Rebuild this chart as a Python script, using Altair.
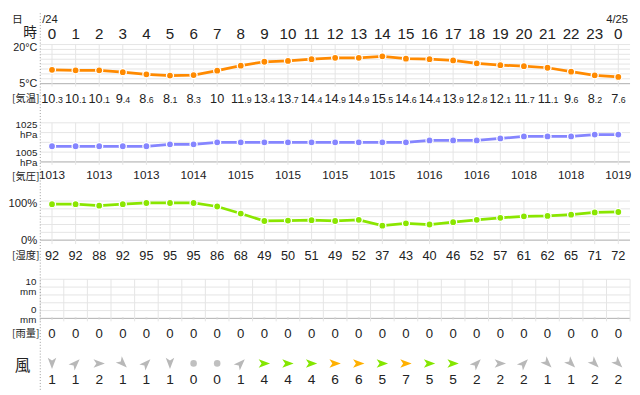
import altair as alt
import pandas as pd

# ---------------- data ----------------
hour_labels = ["0", "1", "2", "3", "4", "5", "6", "7", "8", "9", "10", "11", "12",
               "13", "14", "15", "16", "17", "18", "19", "20", "21", "22", "23", "0"]
temperature = [10.3, 10.1, 10.1, 9.4, 8.6, 8.1, 8.3, 10.0, 11.9, 13.4, 13.7, 14.4, 14.9,
               14.9, 15.5, 14.6, 14.4, 13.9, 12.8, 12.1, 11.7, 11.1, 9.6, 8.2, 7.6]
pressure = [1013, 1013, 1013, 1013, 1013, 1014, 1014, 1015, 1015, 1015, 1015, 1015, 1015,
            1015, 1015, 1015, 1016, 1016, 1016, 1017, 1018, 1018, 1018, 1019, 1019]
humidity = [92, 92, 88, 92, 95, 95, 95, 86, 68, 49, 50, 51, 49,
            52, 37, 43, 40, 46, 52, 57, 61, 62, 65, 71, 72]
rain = [0, 0, 0, 0, 0, 0, 0, 0, 0, 0, 0, 0, 0,
        0, 0, 0, 0, 0, 0, 0, 0, 0, 0, 0, 0]
wind_speed = [1, 1, 2, 1, 1, 1, 0, 0, 1, 4, 4, 4, 6,
              6, 5, 7, 5, 5, 2, 2, 2, 1, 1, 2, 2]
wind_dir = ["北", "南西", "西", "北西", "南西", "北", "静穏", "静穏", "南西", "西", "西", "西", "西",
            "西", "西", "西", "西", "西", "南西", "西", "南西", "北西", "北西", "北西", "北西"]

date_start = "/24"
date_end = "4/25"

temp_ticks = ["20°C", "5°C"]
press_ticks = ["1025", "1005"]
hum_ticks = ["100%", "0%"]
rain_ticks = ["10", "0"]

JP = "Noto Sans CJK JP"
NUM = "Liberation Sans"
C_TEMP = "#ff8a00"
C_PRESS = "#8585ff"
C_HUM = "#8ae600"
GRID = "#e4e4e4"
BASE = "#b4b4b4"
TXT = "#222222"

compass = {"北": 0, "北東": 45, "東": 90, "南東": 135, "南": 180, "南西": 225, "西": 270, "北西": 315}

rows = []
for i in range(25):
    t = temperature[i]
    ti = int(t)
    dec = round((t - ti) * 10)
    if dec == 0:
        grp = "int"
        tint, tdec = str(ti), ""
    else:
        grp = "two" if ti >= 10 else "one"
        tint, tdec = str(ti), "." + str(dec)
    ws = wind_speed[i]
    wc = "弱" if ws <= 3 else ("中" if ws <= 5 else "強")
    d = wind_dir[i]
    ang = (compass[d] + 180) % 360 if d in compass else 0
    rows.append(dict(hour=i, hlabel=hour_labels[i], temp=t, tint=tint, tdec=tdec, tgrp=grp,
                     press=pressure[i], plabel=str(pressure[i]) if i % 2 == 0 else "",
                     hum=humidity[i], hlab=str(humidity[i]), rain=rain[i], rlab=str(rain[i]),
                     ws=ws, wslab=str(ws), wdir=d, calm=(d == "静穏"), angle=ang, wcat=wc))
df = pd.DataFrame(rows)

XS = alt.Scale(domain=[0, 24], range=[41, 620])
X = alt.X("hour:Q", scale=XS, axis=None)

panels = {
    "temp": dict(domain=[5, 20], range=[72, 32]),
    "press": dict(domain=[1005, 1025], range=[152, 112]),
    "hum": dict(domain=[0, 100], range=[232, 192]),
    "rain": dict(domain=[0, 10], range=[312, 272]),
}


def ys(p):
    return alt.Scale(domain=panels[p]["domain"], range=panels[p]["range"])


base = alt.Chart(df)
layers = []


def hgrid(p, values, bottom):
    g = pd.DataFrame({"v": values})
    inner = alt.Chart(g).mark_rule(color=GRID, strokeWidth=1).encode(
        y=alt.Y("v:Q", scale=ys(p), axis=None), x=alt.value(29), x2=alt.value(632))
    b = alt.Chart(pd.DataFrame({"v": [bottom]})).mark_rule(color=BASE, strokeWidth=1).encode(
        y=alt.Y("v:Q", scale=ys(p), axis=None), x=alt.value(29), x2=alt.value(632))
    return [inner, b]


def vgrid(p, offset, top, bot):
    g = pd.DataFrame({"hour": [h + offset for h in range(25)] + ([24.5] if offset else [])})
    return alt.Chart(g).mark_rule(color=GRID, strokeWidth=1).encode(
        x=alt.X("hour:Q", scale=XS, axis=None), y=alt.value(top), y2=alt.value(bot))


# grids
layers += hgrid("temp", [5 + k * 1.875 for k in range(9)], 5)
layers.append(vgrid("temp", 0, 32, 75))
layers += hgrid("press", [1005, 1010, 1015, 1020, 1025], 1005)
layers.append(vgrid("press", 0, 112, 155))
layers += hgrid("hum", [0, 20, 40, 60, 80, 100], 0)
layers.append(vgrid("hum", 0, 192, 236))
layers += hgrid("rain", [0, 2, 4, 6, 8, 10], 0)
layers.append(vgrid("rain", -0.5, 272, 315))

# dotted separator
layers.append(alt.Chart(pd.DataFrame({"a": [0]})).mark_rule(
    color="#9a9a9a", strokeDash=[1, 2], strokeWidth=1).encode(
    x=alt.value(29), y=alt.value(0), y2=alt.value(387)))


def series(field, p, color):
    line = base.mark_line(color=color, strokeWidth=2.8).encode(
        x=X, y=alt.Y(f"{field}:Q", scale=ys(p), axis=None))
    pts = base.mark_point(filled=True, color=color, size=52, opacity=1,
                          stroke="white", strokeWidth=1.3).encode(
        x=X, y=alt.Y(f"{field}:Q", scale=ys(p), axis=None))
    return [line, pts]


layers += series("temp", "temp", C_TEMP)
layers += series("press", "press", C_PRESS)
layers += series("hum", "hum", C_HUM)

# rain (zero values show as faint dashes)
layers.append(base.mark_tick(orient="horizontal", color="#cfcfcf", size=2, thickness=2).encode(
    x=X, y=alt.Y("rain:Q", scale=ys("rain"), axis=None)))

# hour labels
layers.append(base.mark_text(font=NUM, fontSize=15.5, color=TXT, baseline="alphabetic").encode(
    x=X, y=alt.value(26), text="hlabel:N"))

# temperature values: big integer part + small decimal
TB = 92
layers.append(base.transform_filter("datum.tgrp == 'two'").mark_text(
    font=NUM, fontSize=13, color=TXT, align="right", baseline="alphabetic", dx=3.5).encode(
    x=X, y=alt.value(TB), text="tint:N"))
layers.append(base.transform_filter("datum.tgrp == 'two'").mark_text(
    font=NUM, fontSize=9, color=TXT, align="left", baseline="alphabetic", dx=3.5).encode(
    x=X, y=alt.value(TB), text="tdec:N"))
layers.append(base.transform_filter("datum.tgrp == 'one'").mark_text(
    font=NUM, fontSize=13, color=TXT, align="right", baseline="alphabetic", dx=0).encode(
    x=X, y=alt.value(TB), text="tint:N"))
layers.append(base.transform_filter("datum.tgrp == 'one'").mark_text(
    font=NUM, fontSize=9, color=TXT, align="left", baseline="alphabetic", dx=0).encode(
    x=X, y=alt.value(TB), text="tdec:N"))
layers.append(base.transform_filter("datum.tgrp == 'int'").mark_text(
    font=NUM, fontSize=13, color=TXT, align="center", baseline="alphabetic").encode(
    x=X, y=alt.value(TB), text="tint:N"))

# pressure labels (every 2 h)
layers.append(base.mark_text(font=NUM, fontSize=12, color=TXT, baseline="middle").encode(
    x=X, y=alt.value(165), text="plabel:N"))
# humidity values
layers.append(base.mark_text(font=NUM, fontSize=13, color=TXT, baseline="middle").encode(
    x=X, y=alt.value(248), text="hlab:N"))
# rain values
layers.append(base.mark_text(font=NUM, fontSize=13.5, color=TXT, baseline="middle").encode(
    x=X, y=alt.value(328), text="rlab:N"))
# wind speed
layers.append(base.mark_text(font=NUM, fontSize=14, color=TXT, baseline="middle").encode(
    x=X, y=alt.value(375), text="wslab:N"))

# wind arrows
ARROW = "M0,-1 L0.75,1 L0,0.5 L-0.75,1 Z"
layers.append(base.transform_filter("!datum.calm").mark_point(
    shape=ARROW, filled=True, opacity=1, size=135).encode(
    x=X, y=alt.value(358),
    angle=alt.Angle("angle:Q", scale=None),
    color=alt.Color("wcat:N", scale=alt.Scale(domain=["弱", "中", "強"],
                                              range=["#b8b8b8", "#84e600", "#ffb000"]),
                    legend=None)))
layers.append(base.transform_filter("datum.calm").mark_circle(
    color="#c0c0c0", size=45, opacity=1).encode(x=X, y=alt.value(358)))


# static labels
def label(txt, x, y, size, align="right", font=NUM, baseline="middle"):
    return alt.Chart(pd.DataFrame({"t": [txt]})).mark_text(
        font=font, fontSize=size, color=TXT, align=align, baseline=baseline).encode(
        x=alt.value(x), y=alt.value(y), text="t:N")


layers += [
    label("日", 5.5, 10, 11, "center", JP, "alphabetic"),
    label(date_start, 31, 10, 11.5, "left", NUM, "alphabetic"),
    label(date_end, 630, 10, 11.5, "right", NUM, "alphabetic"),
    label("時", 18.5, 24, 14, "center", JP, "alphabetic"),
    label(temp_ticks[0], 26, 35.5, 11),
    label(temp_ticks[1], 26, 72, 11),
    label("[気温]", 0, 88, 10.5, "left", JP),
    label(press_ticks[0], 26, 114.5, 10),
    label("hPa", 26, 125, 10),
    label(press_ticks[1], 26, 142.5, 10),
    label("hPa", 26, 153, 10),
    label("[気圧]", 0, 167, 10.5, "left", JP),
    label(hum_ticks[0], 26, 195, 11.5),
    label(hum_ticks[1], 26, 233, 11.5),
    label("[湿度]", 0, 248, 10.5, "left", JP),
    label(rain_ticks[0], 25, 274.5, 10),
    label("mm", 25, 285, 10),
    label(rain_ticks[1], 25, 303, 10),
    label("mm", 25, 313.5, 10),
    label("[雨量]", 0, 328, 10.5, "left", JP),
    label("風", 11, 361, 16, "center", JP),
]

chart = alt.layer(*layers).resolve_scale(y="independent", color="independent").properties(
    width=632, height=387, padding=0, background="white"
).configure_view(stroke=None)

chart.save("out.html", embed_options={"renderer": "svg", "actions": False})
